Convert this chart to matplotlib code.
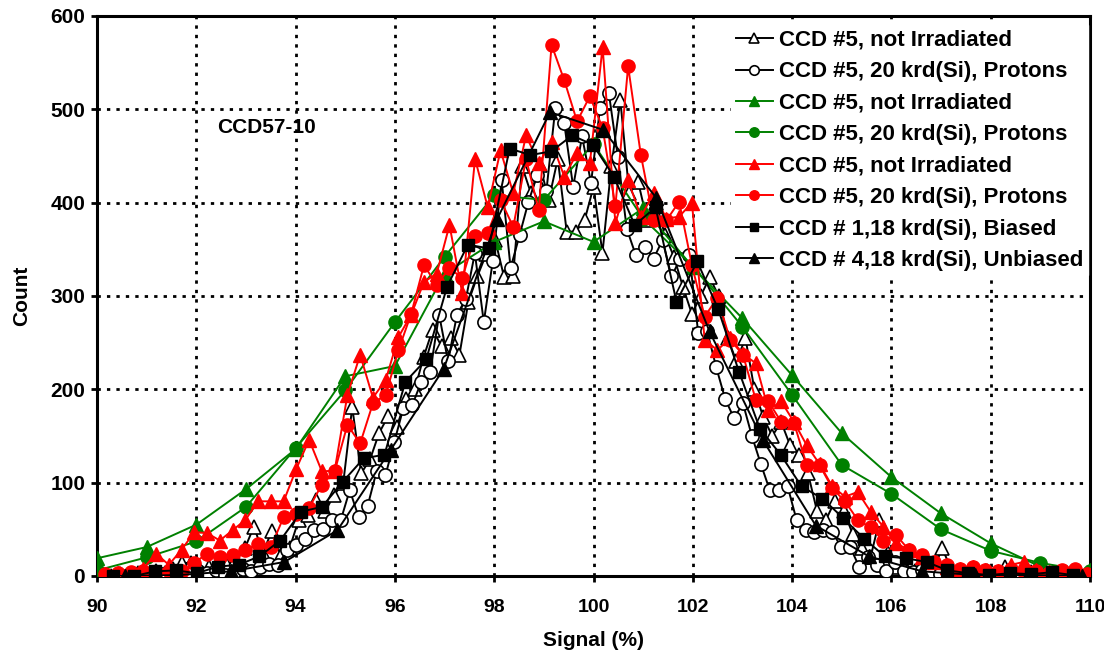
import numpy as np
import matplotlib
import matplotlib.pyplot as plt

matplotlib.use('Agg')

plt.rcParams['font.family'] = ['Liberation Sans', 'DejaVu Sans']
plt.rcParams['font.weight'] = 'bold'

# histogram bins: first bin centre and bin width
wt_start, wt_step = 90.10, 0.18
wc_start, wc_step = 90.05, 0.18
red_start, red_step = 90.16, 0.257
sq_start, sq_step = 90.33, 0.42
bt_start, bt_step = 90.56, 1.0706
green_x = list(range(90, 111))

labels = ['CCD #5, not Irradiated', 'CCD #5, 20 krd(Si), Protons',
          'CCD #5, not Irradiated', 'CCD #5, 20 krd(Si), Protons',
          'CCD #5, not Irradiated', 'CCD #5, 20 krd(Si), Protons',
          'CCD # 1,18 krd(Si), Biased', 'CCD # 4,18 krd(Si), Unbiased']

white_tri = [1, 0, 2, 1, 3, 2, 5, 3, 8, 14, 14, 6, 10, 5, 12, 18, 30, 53, 25, 48,
             22, 30, 60, 65, 81, 70, 87, 100, 181, 110, 125, 153, 171, 160, 190, 200, 235, 264, 246, 255,
             237, 294, 321, 345, 360, 320, 321, 439, 410, 440, 403, 447, 369, 369, 381, 417, 346, 439, 510, 410,
             422, 381, 400, 365, 342, 310, 281, 300, 320, 300, 255, 230, 255, 200, 170, 150, 165, 140, 130, 110,
             70, 60, 80, 70, 45, 30, 20, 60, 25, 10, 8, 5, 3, 5, 30, 8, 3, 2, 0, 5,
             3, 10, 2, 1, 4, 0, 2, 1, 3, 0, 1]

white_circ = [0, 0, 1, 0, 2, 1, 3, 2, 4, 3, 2, 5, 3, 6, 1, 4, 7, 5, 10, 13,
              12, 28, 33, 40, 49, 50, 60, 60, 92, 63, 75, 112, 108, 144, 180, 183, 208, 219, 280, 230,
              280, 297, 346, 272, 337, 424, 330, 365, 401, 430, 412, 501, 485, 417, 471, 421, 501, 517, 449, 372,
              344, 353, 340, 360, 321, 340, 344, 260, 262, 224, 190, 169, 185, 150, 120, 92, 92, 96, 60, 49,
              47, 49, 47, 31, 31, 10, 20, 12, 5, 15, 5, 4, 6, 3, 2, 1, 3, 2, 1, 2,
              0, 1, 0, 2, 0, 1, 0, 0, 1, 0, 0]

green_tri = [19, 31, 55, 93, 136, 214, 225, 324, 358, 380, 358, 394, 331, 276, 215, 153, 106, 67, 35, 10, 6]
green_circ = [6, 20, 37, 74, 137, 199, 272, 342, 408, 403, 463, 383, 332, 267, 194, 119, 88, 50, 27, 14, 5]

red_tri = [2, 3, 3, 8, 24, 12, 28, 47, 46, 38, 49, 60, 80, 80, 80, 115, 146, 112, 113, 194,
           237, 191, 210, 256, 280, 315, 324, 376, 303, 447, 395, 456, 410, 472, 442, 465, 428, 453, 442, 567,
           378, 424, 385, 410, 383, 385, 400, 253, 242, 255, 238, 228, 178, 187, 165, 140, 120, 96, 85, 90,
           69, 53, 35, 28, 20, 15, 10, 8, 10, 6, 5, 12, 15, 6, 4, 3, 5, 2]

red_circ = [2, 3, 4, 5, 4, 5, 5, 14, 24, 20, 22, 28, 34, 31, 63, 66, 73, 98, 112, 162,
            142, 185, 194, 242, 281, 333, 312, 330, 319, 364, 368, 403, 374, 447, 392, 569, 531, 487, 514, 480,
            396, 546, 451, 381, 381, 401, 333, 278, 298, 253, 237, 189, 187, 165, 164, 119, 119, 94, 80, 60,
            52, 38, 44, 28, 22, 15, 12, 8, 10, 6, 5, 8, 4, 5, 3, 6, 8, 2]

black_sq = [0, 0, 5, 6, 3, 10, 12, 21, 38, 69, 74, 101, 126, 130, 208, 232, 310, 355, 351, 458,
            451, 455, 472, 462, 428, 376, 395, 294, 337, 286, 219, 158, 130, 96, 83, 62, 40, 21, 19, 15,
            6, 3, 1, 3, 2, 4, 1]

black_tri = [0, 1, 5, 15, 49, 135, 222, 382, 497, 478, 405, 262, 146, 54, 21, 5, 1, 1, 0]


def bins(start, step, values):
    return start + step * np.arange(len(values))


fig, ax = plt.subplots(figsize=(11.04, 6.61), dpi=100)
fig.subplots_adjust(left=0.0879, right=0.9873, bottom=0.1286, top=0.9758)

ms = 9.5
ax.plot(bins(wt_start, wt_step, white_tri), white_tri, '-^', color='black', mfc='white', mec='black',
        ms=ms, lw=1.4, mew=1.2, label=labels[0], zorder=3)
ax.plot(bins(wc_start, wc_step, white_circ), white_circ, '-o', color='black', mfc='white', mec='black',
        ms=ms, lw=1.4, mew=1.2, label=labels[1], zorder=3)
ax.plot(green_x, green_tri, '-^', color='#008000', ms=ms, lw=1.4, label=labels[2], zorder=4)
ax.plot(green_x, green_circ, '-o', color='#008000', ms=ms, lw=1.4, label=labels[3], zorder=4)
ax.plot(bins(red_start, red_step, red_tri), red_tri, '-^', color='#ff0000', ms=ms, lw=1.4,
        label=labels[4], zorder=5)
ax.plot(bins(red_start, red_step, red_circ), red_circ, '-o', color='#ff0000', ms=ms, lw=1.4,
        label=labels[5], zorder=5)
ax.plot(bins(sq_start, sq_step, black_sq), black_sq, '-s', color='black', ms=8, lw=1.4,
        label=labels[6], zorder=6)
ax.plot(bins(bt_start, bt_step, black_tri), black_tri, '-^', color='black', ms=ms, lw=1.4,
        label=labels[7], zorder=6)

ax.set_xlim(90, 110)
ax.set_ylim(0, 600)
ax.set_xticks(range(90, 111, 2))
ax.set_yticks(range(0, 601, 100))
ax.grid(True, color='black', linestyle=(0, (1.2, 2.2)), linewidth=2)
ax.set_axisbelow(True)
for s in ax.spines.values():
    s.set_linewidth(2.2)
ax.tick_params(direction='out', length=4.5, width=2, labelsize=15)
ax.tick_params(axis='x', pad=12, labelsize=14)
ax.tick_params(axis='y', pad=4)
for t in ax.get_xticklabels() + ax.get_yticklabels():
    t.set_fontweight('bold')

ax.set_xlabel('Signal (%)', fontsize=15, fontweight='bold', labelpad=11)
ax.set_ylabel('Count', fontsize=15, fontweight='bold', labelpad=14)
ax.text(92.42, 480, 'CCD57-10', fontsize=15, fontweight='bold', ha='left', va='center')

leg = ax.legend(loc='upper right', bbox_to_anchor=(1.0, 0.987), frameon=True, framealpha=1,
                edgecolor='white', fancybox=False, fontsize=16, markerscale=0.72,
                handlelength=1.7, handletextpad=0.25, labelspacing=0.47, borderpad=0.2,
                borderaxespad=0.1)
for t in leg.get_texts():
    t.set_fontweight('bold')
leg.set_zorder(10)

plt.savefig('out.png', dpi=100)
